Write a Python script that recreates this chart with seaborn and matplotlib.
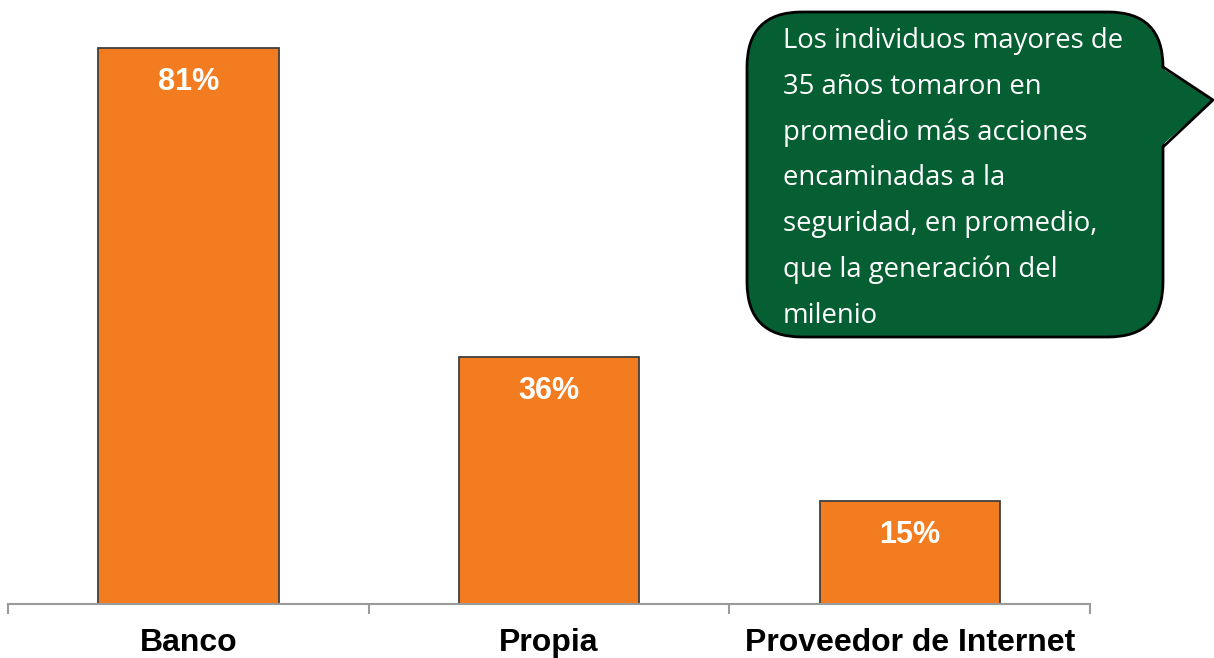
import matplotlib
matplotlib.use("Agg")
import matplotlib.pyplot as plt
import seaborn as sns
import pandas as pd
from matplotlib.patches import FancyBboxPatch, Polygon
from matplotlib.lines import Line2D

categories = ["Banco", "Propia", "Proveedor de Internet"]
values = [81, 36, 15]
value_labels = ["81%", "36%", "15%"]
note_lines = [
    "Los individuos mayores de",
    "35 años tomaron en",
    "promedio más acciones",
    "encaminadas a la",
    "seguridad, en promedio,",
    "que la generación del",
    "milenio",
]

sns.set_style("white")
plt.rcParams["font.family"] = ["Liberation Sans", "DejaVu Sans"]

W, H = 1214, 658
fig = plt.figure(figsize=(W / 100, H / 100), dpi=100)
ax = fig.add_axes([8 / W, 54 / H, 1082 / W, 583 / H])

df = pd.DataFrame({"cat": categories, "val": values})
sns.barplot(data=df, x="cat", y="val", color="#F47C20", saturation=1,
            edgecolor="#404040", linewidth=1.3, width=0.5, ax=ax)

ax.set_xlim(-0.5, 2.5)
ax.set_ylim(0, 85)
ax.set_xlabel("")
ax.set_ylabel("")
ax.set_yticks([])
for s in ["top", "right", "left"]:
    ax.spines[s].set_visible(False)
ax.spines["bottom"].set_color("#9a9a9a")
ax.spines["bottom"].set_linewidth(1.5)

ax.set_xticks(range(len(categories)))
ax.set_xticklabels(categories, fontsize=23, fontweight="bold", color="black")
ax.tick_params(axis="x", which="major", length=0, pad=17)
ax.set_xticks([-0.5, 0.5, 1.5, 2.5], minor=True)
ax.tick_params(axis="x", which="minor", length=7, width=1.5, color="#9a9a9a",
               direction="out", bottom=True)

for i, (v, lab) in enumerate(zip(values, value_labels)):
    ax.annotate(lab, xy=(i, v), xytext=(0, -24.5), textcoords="offset points",
                ha="center", va="center", fontsize=22, fontweight="bold",
                color="white")

# speech bubble overlay
ov = fig.add_axes([0, 0, 1, 1], facecolor="none")
ov.set_xlim(0, W)
ov.set_ylim(H, 0)
ov.axis("off")
green = "#065E33"
box = FancyBboxPatch((747, 12), 416, 325, boxstyle="round,pad=0,rounding_size=55",
                     facecolor=green, edgecolor="black", linewidth=2)
ov.add_patch(box)
ov.add_patch(Polygon([(1160, 67), (1213, 100), (1160, 147)], closed=True,
                     facecolor=green, edgecolor="none"))
ov.add_line(Line2D([1163, 1213, 1163], [67, 100, 147], color="black", linewidth=2))

for i, line in enumerate(note_lines):
    ov.text(783, 48 + 45.8 * i, line, fontsize=19.8, color="white",
            family=["Open Sans", "DejaVu Sans"], ha="left", va="baseline")

fig.savefig("out.png", dpi=100)
